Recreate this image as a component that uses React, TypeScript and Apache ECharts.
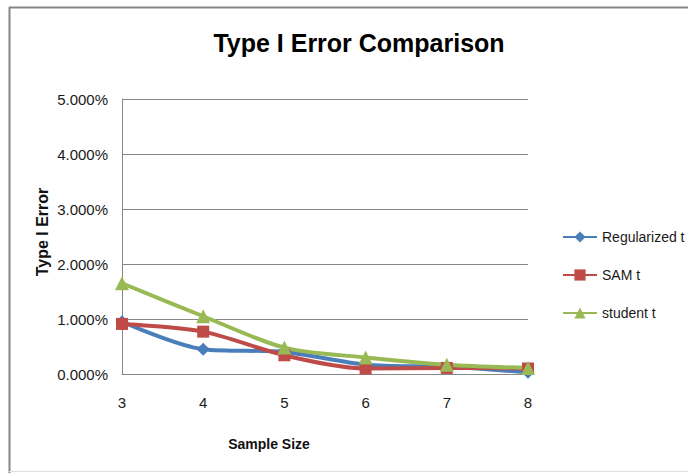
import React, { useEffect, useRef } from "react";
import * as echarts from "echarts";

const sampleSizes = ["3", "4", "5", "6", "7", "8"];
const regularizedT = [0.95, 0.45, 0.4, 0.17, 0.13, 0.03];
const samT = [0.91, 0.77, 0.34, 0.1, 0.11, 0.1];
const studentT = [1.65, 1.05, 0.48, 0.3, 0.17, 0.11];

const seriesNames = ["Regularized t", "SAM t", "student t"];
const colors = ["#4A7EBB", "#BE4B48", "#98B954"];

const font = "'Liberation Sans', Arial, sans-serif";

export default function App() {
  const ref = useRef<HTMLDivElement>(null);

  useEffect(() => {
    if (!ref.current) return;
    const chart = echarts.init(ref.current, null, { renderer: "svg" });
    const mk = (name: string, data: number[], color: string, symbol: string, size: number) => ({
      name,
      type: "line",
      data,
      smooth: 0.3,
      symbol,
      symbolSize: size,
      showAllSymbol: true,
      lineStyle: { color, width: 4 },
      itemStyle: { color, borderWidth: 0 },
    });
    chart.setOption({
      animation: false,
      backgroundColor: "#ffffff",
      title: {
        text: "Type I Error Comparison",
        left: 354,
        top: 25,
        textAlign: "center",
        textStyle: { fontFamily: font, fontWeight: "bold", fontSize: 25, color: "#000" },
      },
      grid: { left: 122, right: 160, top: 99, bottom: 99, containLabel: false },
      legend: {
        orient: "vertical",
        left: 557,
        top: 222,
        itemWidth: 34,
        itemHeight: 14,
        itemGap: 18,
        data: seriesNames,
        textStyle: { fontFamily: font, fontSize: 14, color: "#1a1a1a", lineHeight: 20 },
      },
      xAxis: {
        type: "category",
        data: sampleSizes,
        boundaryGap: false,
        axisLine: { lineStyle: { color: "#878787", width: 1 } },
        axisTick: { show: false },
        axisLabel: { fontFamily: font, fontSize: 15, color: "#1a1a1a", margin: 21 },
        splitLine: { show: false },
      },
      yAxis: {
        type: "value",
        min: 0,
        max: 5,
        interval: 1,
        axisLine: { show: true, lineStyle: { color: "#878787", width: 1 } },
        axisTick: { show: false },
        axisLabel: {
          fontFamily: font,
          fontSize: 15,
          color: "#1a1a1a",
          margin: 14,
          formatter: (v: number) => v.toFixed(3) + "%",
        },
        splitLine: { lineStyle: { color: "#878787", width: 1 } },
      },
      graphic: [
        { type: "line", shape: { x1: 9, y1: 7.5, x2: 688, y2: 7.5 }, style: { stroke: "#858585", lineWidth: 2 } },
        { type: "line", shape: { x1: 9.5, y1: 7, x2: 9.5, y2: 473 }, style: { stroke: "#858585", lineWidth: 2 } },
        { type: "line", shape: { x1: 9, y1: 471.5, x2: 688, y2: 471.5 }, style: { stroke: "#e0e0e0", lineWidth: 1 } },
        {
          type: "text",
          x: 269,
          y: 444,
          style: {
            text: "Sample Size",
            fontFamily: font,
            fontWeight: "bold",
            fontSize: 14,
            fill: "#111",
            textAlign: "center",
            textVerticalAlign: "middle",
          },
        },
        {
          type: "text",
          x: 42,
          y: 232,
          rotation: Math.PI / 2,
          style: {
            text: "Type I Error",
            fontFamily: font,
            fontWeight: "bold",
            fontSize: 16,
            fill: "#111",
            textAlign: "center",
            textVerticalAlign: "middle",
          },
        },
      ],
      series: [
        mk(seriesNames[0], regularizedT, colors[0], "diamond", 13),
        mk(seriesNames[1], samT, colors[1], "rect", 12),
        mk(seriesNames[2], studentT, colors[2], "triangle", 14),
      ],
    });
    return () => chart.dispose();
  }, []);

  return (
    <div
      ref={ref}
      style={{ position: "fixed", left: 0, top: 0, width: 688, height: 473, background: "#fff" }}
    />
  );
}
